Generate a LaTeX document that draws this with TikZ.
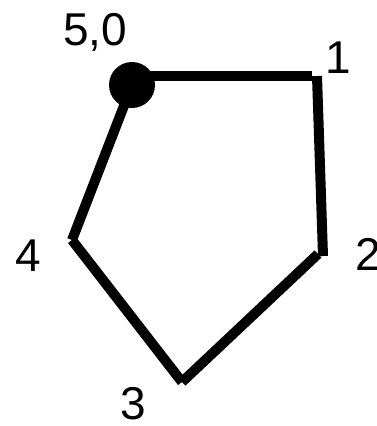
\documentclass[tikz,border=0pt]{standalone}
\usepackage{fontspec}
\setmainfont{Liberation Sans}
\begin{document}
\begin{tikzpicture}[x=1pt,y=-1pt,
  edge/.style={line width=10pt,line cap=butt},
  lbl/.style={font=\fontsize{46}{46}\selectfont,inner sep=0pt}]
\useasboundingbox (0,0) rectangle (376,426);
\coordinate (v0) at (132,85);
\coordinate (v0a) at (132,76);
\coordinate (v1a) at (312,76);
\coordinate (v1b) at (317,76);
\coordinate (v2) at (323,256);
\coordinate (v2b) at (318,254);
\coordinate (v3) at (182,382);
\coordinate (v4) at (72,240);
\draw[edge] (v0a) -- (v1a);
\draw[edge] (v1b) -- (v2);
\draw[edge] (v2b) -- (v3);
\draw[edge] (v3) -- (v4);
\draw[edge] (v4) -- (v0);
\fill (v0) circle (23);
\node[lbl] (l50) at (95,32) {5,0};
\node[lbl] (l1) at (338,58) {1};
\node[lbl] (l2) at (368,254) {2};
\node[lbl] (l3) at (133,404) {3};
\node[lbl] (l4) at (28,256) {4};
\end{tikzpicture}
\end{document}
